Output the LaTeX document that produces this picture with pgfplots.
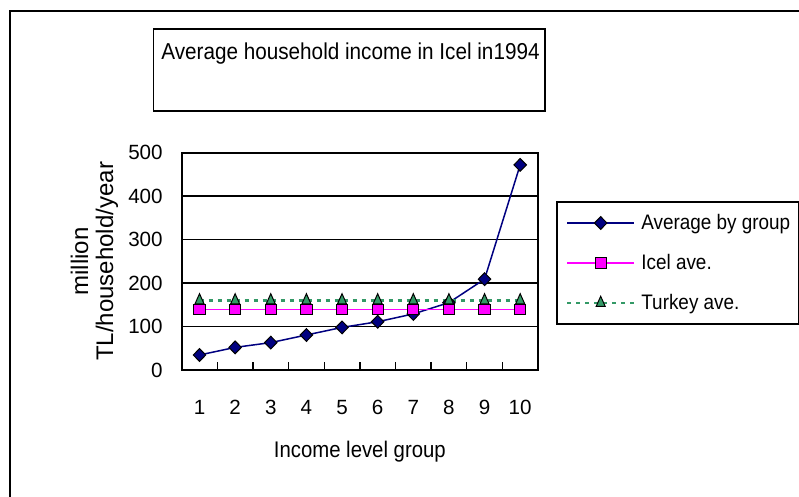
\documentclass[border=0pt]{standalone}
\usepackage{fontspec}
\setmainfont{Liberation Sans}
\newfontfamily\cond[FakeStretch=0.9]{Liberation Sans}
\usepackage{pgfplots}
\pgfplotsset{compat=1.18}
\definecolor{navy}{HTML}{000080}
\definecolor{mag}{HTML}{FF00FF}
\definecolor{sgreen}{HTML}{339966}
\begin{document}
\begin{tikzpicture}
\useasboundingbox (0,0) rectangle (399.5pt,248.5pt);
\draw[line width=1pt] (5pt,-2pt) -- (5pt,243pt) -- (402pt,243pt);
\draw[line width=0.7pt] (76.7pt,193pt) rectangle (272.5pt,234pt);
\node[anchor=base west, inner sep=0pt, font=\cond\fontsize{11.5}{13}\selectfont] at (80.5pt,218.85pt) {Average household income in Icel in1994};
\begin{axis}[
  scale only axis, width=178.15pt, height=108.65pt,
  at={(90.85pt,63.5pt)}, anchor=south west,
  xmin=0.5, xmax=10.5, ymin=0, ymax=500,
  xtick={0.5,1.5,2.5,3.5,4.5,5.5,6.5,7.5,8.5,9.5,10.5},
  x tick label as interval,
  xticklabels={1,2,3,4,5,6,7,8,9,10},
  ytick={0,100,200,300,400,500},
  ymajorgrids, major grid style={black, line width=0.7pt},
  axis line style={line width=1pt},
  tick align=inside, major tick length=4pt, tick style={black, line width=0.65pt},
  xtick pos=lower, ytick pos=left,
  tick label style={font=\fontsize{10.3}{12}\selectfont},
  /pgf/number format/assume math mode=true,
  xticklabel style={anchor=base, yshift=-22.5pt},
  yticklabel style={xshift=-6pt},
  xlabel={Income level group},
  xlabel style={at={(axis description cs:0.5,0)}, anchor=base, yshift=-44pt, font=\cond\fontsize{11.3}{13}\selectfont},
  ylabel={million\\TL/household/year},
  ylabel style={at={(axis description cs:-0.245,0.5)}, anchor=center, align=center, font=\fontsize{12}{12.5}\selectfont},
  legend style={at={(1.0505,0.7777)}, anchor=north west, line width=1pt,
    inner xsep=4.5pt, inner ysep=5.5pt, row sep=10pt, column sep=3pt,
    font=\cond\fontsize{10.5}{12}\selectfont,
    nodes={inner sep=0pt, text height=8pt, text depth=2pt}},
  legend cell align=left,
  legend image code/.code={\draw[mark repeat=2,mark phase=2] plot coordinates {(0pt,0pt) (16.75pt,0pt) (33.5pt,0pt)};},
]
\addplot[navy, line width=0.75pt, mark=diamond*, mark size=3.2pt,
  mark options={fill=navy, draw=black, line width=0.5pt, xscale=1.3}]
  coordinates {(1,34.5) (2,52) (3,63) (4,80.5) (5,98) (6,111) (7,129) (8,155) (9,209) (10,472)};
\addlegendentry{Average by group}
\addplot[mag, line width=0.6pt, mark=square*, mark size=2.8pt,
  mark options={fill=mag, draw=black, line width=0.5pt, solid, yscale=0.9}]
  coordinates {(1,140) (2,140) (3,140) (4,140) (5,140) (6,140) (7,140) (8,140) (9,140) (10,140)};
\addlegendentry{Icel ave.}
\addplot[sgreen, line width=1.2pt, dash pattern=on 2pt off 2.5pt, mark=triangle*, mark size=2.6pt,
  mark options={fill=sgreen, draw=black, line width=0.5pt, solid, yscale=1.3}]
  coordinates {(1,160) (2,160) (3,160) (4,160) (5,160) (6,160) (7,160) (8,160) (9,160) (10,160)};
\addlegendentry{Turkey ave.}
\end{axis}
\end{tikzpicture}
\end{document}
